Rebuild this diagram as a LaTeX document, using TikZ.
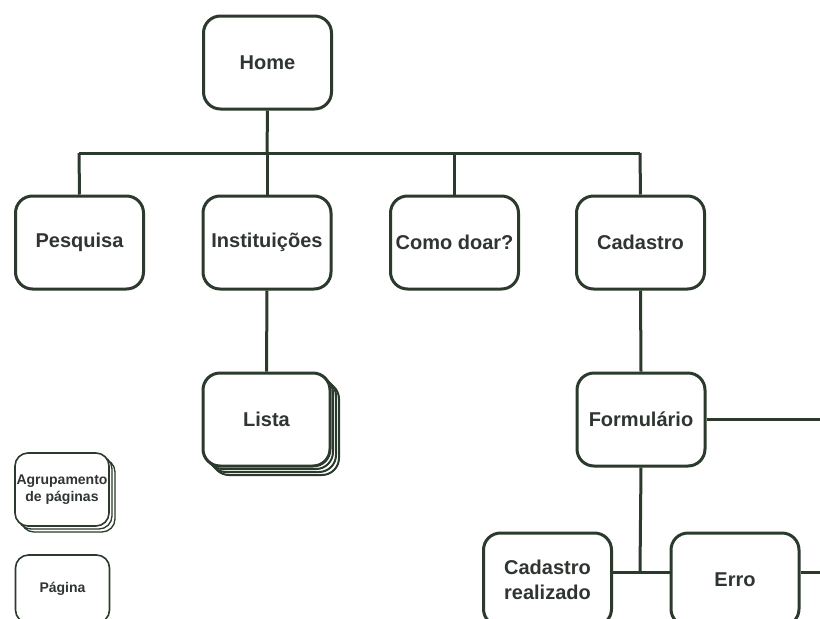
\documentclass[tikz,border=0pt]{standalone}
\usepackage{fontspec}
\setmainfont{Liberation Sans}
\definecolor{ln}{HTML}{2B3A2C}
\definecolor{tx}{HTML}{2F3530}
\tikzset{
  page/.style={draw=ln, line width=3pt, rounded corners=17pt, fill=white,
    minimum width=128pt, minimum height=93pt, inner sep=2pt, align=center,
    text=tx, font=\fontsize{20}{25}\selectfont\bfseries},
  small/.style={page, minimum width=94pt, minimum height=68pt, line width=1.6pt,
    rounded corners=13pt, inner sep=1pt, font=\fontsize{14}{17}\selectfont\bfseries},
  shadowbox/.style={draw=ln, fill=white, rounded corners=17pt, line width=2pt},
  conn/.style={draw=ln, line width=3pt}
}
\begin{document}
\begin{tikzpicture}[x=1pt,y=-1pt]
\useasboundingbox (0,0) rectangle (820,619);
\clip (0,0) rectangle (820,619);
\fill[white] (0,0) rectangle (820,619);
\coordinate (bus) at (267,153);
\coordinate (busL) at (79,153);
\coordinate (busR) at (640,153);
\coordinate (fR) at (822,419.5);
\coordinate (eR) at (822,572);
\coordinate (join) at (640,572);
% nodes
\node[page] (home) at (267.5,62.5) {Home};
\node[page] (pesq) at (79.5,242.5) {Pesquisa};
\node[page] (inst) at (267,242.5) {Instituições};
\node[page] (como) at (454.5,242.5) {Como doar?};
\node[page] (cad) at (640.5,242.5) {Cadastro};
% Lista stack
\foreach \k in {9,6,3}{
  \draw[shadowbox] (203+\k,373+\k) rectangle (330+\k,466+\k);
}
\node[page, minimum width=127pt] (lista) at (266.5,419.5) {Lista};
\node[page] (form) at (641,419.5) {Formulário};
\node[page] (real) at (547.5,579.5) {Cadastro\\realizado};
\node[page] (erro) at (735,579.5) {Erro};
% legend
\foreach \k in {6,3}{
  \draw[draw=ln, fill=white, rounded corners=13pt, line width=1.3pt] (15+\k,453+\k) rectangle (109+\k,526+\k);
}
\node[small, minimum height=73pt] (agr) at (62,489.5) {Agrupamento\\de páginas};
\node[small, minimum height=68pt] (pag) at (62.5,589) {Página};
% connectors
\draw[conn] (home.south) -- (bus);
\draw[conn] (busL) -- (busR);
\draw[conn] (busL) -- (pesq.north);
\draw[conn] (bus) -- (inst.north);
\draw[conn] (como.north |- bus) -- (como.north);
\draw[conn] (busR) -- (cad.north);
\draw[conn] (inst.south) -- (lista.north);
\draw[conn] (cad.south) -- (form.north);
\draw[conn] (form.east) -- (fR);
\draw[conn] (form.south) -- (join);
\draw[conn] (real.east |- join) -- (erro.west |- join);
\draw[conn] (erro.east |- eR) -- (eR);
\end{tikzpicture}
\end{document}
